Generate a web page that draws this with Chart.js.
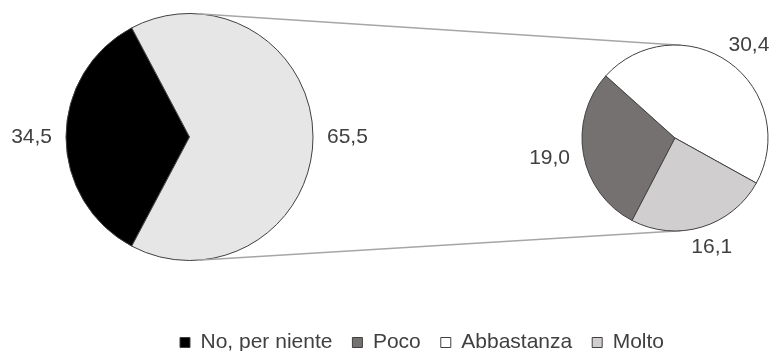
<!DOCTYPE html>
<html lang="it">
<head>
<meta charset="utf-8">
<title>Torta con sottotorta</title>
<script src="https://cdn.jsdelivr.net/npm/chart.js@4.4.1/dist/chart.umd.min.js"></script>
<style>
  html, body { margin: 0; padding: 0; background: #fff; }
  body { width: 783px; height: 351px; overflow: hidden; position: relative; }
  .box { position: absolute; }
  #mainBox { left: 0; top: 0; width: 783px; height: 351px; }
  #detailBox { left: 0; top: -36px; width: 1190px; height: 399px; }
</style>
</head>
<body>
<div class="box" id="mainBox"><canvas id="mainPie"></canvas></div>
<div class="box" id="detailBox"><canvas id="detailPie"></canvas></div>
<script>
// Dati del grafico
const mainCategories = ['No, per niente', 'Altro'];
const mainValues = [34.5, 65.5];
const detailCategories = ['Poco', 'Abbastanza', 'Molto'];
const detailValues = [19.0, 30.4, 16.1];
const legendCategories = ['No, per niente', 'Poco', 'Abbastanza', 'Molto'];

const mainColors = ['#000000', '#e6e6e6'];
const detailColors = ['#767171', '#ffffff', '#d0cece'];
const legendColors = ['#000000', '#767171', '#ffffff', '#d0cece'];

const textColor = '#404040';
const fontFamily = "'Liberation Sans', Arial, sans-serif";

function formatValue(v) {
    return v.toFixed(1).replace('.', ',');
}

// Etichette dei valori fuori dalle fette
const valueLabels = {
    id: 'valueLabels',
    afterDatasetsDraw(chart) {
        const ctx = chart.ctx;
        const values = chart.data.datasets[0].data;
        ctx.save();
        ctx.font = '21px ' + fontFamily;
        ctx.fillStyle = textColor;
        ctx.textAlign = 'center';
        ctx.textBaseline = 'middle';
        chart.getDatasetMeta(0).data.forEach((arc, i) => {
            const mid = (arc.startAngle + arc.endAngle) / 2;
            const ux = Math.cos(mid);
            const uy = Math.sin(mid);
            const text = formatValue(values[i]);
            const w = ctx.measureText(text).width;
            const dist = arc.outerRadius + 14;
            ctx.fillText(text, arc.x + ux * (dist + w / 2), arc.y + uy * (dist + 7));
        });
        ctx.restore();
    }
};

// Linee di collegamento tra le due torte (tangenti esterne)
const connectors = {
    id: 'connectors',
    beforeDatasetsDraw(chart) {
        const big = mainChart.getDatasetMeta(0).data[0];
        const small = chart.getDatasetMeta(0).data[0];
        const a = mainChart.canvas.getBoundingClientRect();
        const b = chart.canvas.getBoundingClientRect();
        const x1 = big.x + a.left - b.left;
        const y1 = big.y + a.top - b.top;
        const r1 = big.outerRadius;
        const x2 = small.x, y2 = small.y, r2 = small.outerRadius;
        const d = Math.hypot(x2 - x1, y2 - y1);
        const alpha = Math.atan2(y2 - y1, x2 - x1);
        const beta = Math.acos((r1 - r2) / d);
        const ctx = chart.ctx;
        ctx.save();
        ctx.strokeStyle = '#a6a6a6';
        ctx.lineWidth = 1.5;
        [alpha - beta, alpha + beta].forEach(phi => {
            ctx.beginPath();
            ctx.moveTo(x1 + r1 * Math.cos(phi), y1 + r1 * Math.sin(phi));
            ctx.lineTo(x2 + r2 * Math.cos(phi), y2 + r2 * Math.sin(phi));
            ctx.stroke();
        });
        ctx.restore();
    }
};

const mainTotal = mainValues.reduce((s, v) => s + v, 0);

const mainChart = new Chart(document.getElementById('mainPie'), {
    type: 'pie',
    data: {
        labels: mainCategories,
        datasets: [{
            data: mainValues,
            backgroundColor: mainColors,
            borderColor: '#404040',
            borderWidth: 1
        }]
    },
    options: {
        responsive: true,
        maintainAspectRatio: false,
        animation: false,
        radius: 123.5,
        // la prima fetta centrata a sinistra
        rotation: 270 - mainValues[0] / mainTotal * 180,
        layout: { padding: { left: 60, right: 464, top: 10, bottom: 87 } },
        plugins: {
            legend: { display: false },
            tooltip: { enabled: false }
        }
    },
    plugins: [valueLabels]
});

const detailChart = new Chart(document.getElementById('detailPie'), {
    type: 'pie',
    data: {
        labels: detailCategories,
        datasets: [{
            data: detailValues,
            backgroundColor: detailColors,
            borderColor: '#404040',
            borderWidth: 1
        }]
    },
    options: {
        responsive: true,
        maintainAspectRatio: false,
        animation: false,
        radius: 93,
        rotation: 207.5,
        layout: { padding: { left: 160, right: 0, top: 0, bottom: 0 } },
        plugins: {
            tooltip: { enabled: false },
            legend: {
                display: true,
                position: 'bottom',
                align: 'start',
                onClick: null,
                labels: {
                    color: textColor,
                    font: { family: fontFamily, size: 21 },
                    boxWidth: 10,
                    boxHeight: 10,
                    padding: 20,
                    generateLabels: () => legendCategories.map((name, i) => ({
                        text: name,
                        fillStyle: legendColors[i],
                        strokeStyle: '#404040',
                        lineWidth: 1,
                        fontColor: textColor,
                        hidden: false,
                        index: i
                    }))
                }
            }
        }
    },
    plugins: [connectors, valueLabels]
});
</script>
</body>
</html>
